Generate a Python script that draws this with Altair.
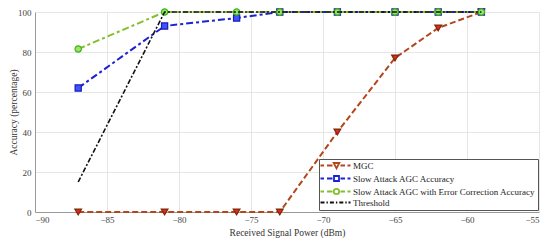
import altair as alt
import pandas as pd

# ---- data ----
power = [-87, -81, -76, -73, -69, -65, -62, -59]
mgc = [0, 0, 0, 0, 40, 77, 92, 100]
slow_agc = [62, 93, 97, 100, 100, 100, 100, 100]
slow_agc_ec = [81.5, 100, 100, 100, 100, 100, 100, 100]
threshold = [15, 100, 100, 100, 100, 100, 100, 100]

series_names = [
    "MGC",
    "Slow Attack AGC Accuracy",
    "Slow Attack AGC with Error Correction Accuracy",
    "Threshold",
]
x_ticks = [-90, -85, -80, -75, -70, -65, -60, -55]
y_ticks = [0, 20, 40, 60, 80, 100]

rows = []
for name, vals in zip(series_names, [mgc, slow_agc, slow_agc_ec, threshold]):
    for p, v in zip(power, vals):
        rows.append({"series": name, "power": p, "acc": v})
df = pd.DataFrame(rows)

FONT = "Liberation Serif, Times New Roman, serif"

x_enc = alt.X(
    "power:Q",
    scale=alt.Scale(domain=[-90, -55], nice=False),
    axis=alt.Axis(
        values=x_ticks,
        title="Received Signal Power (dBm)",
        ticks=False,
        labelPadding=3,
        titleY=15,
        titleBaseline="top",
    ),
)
y_enc = alt.Y(
    "acc:Q",
    scale=alt.Scale(domain=[0, 100], nice=False),
    axis=alt.Axis(
        values=y_ticks,
        title="Accuracy (percentage)",
        ticks=False,
        labelPadding=4,
        titleX=-22,
        titleY=100,
        titleAngle=270,
        titleAlign="center",
        titleBaseline="middle",
    ),
)

base = alt.Chart(df).encode(x=x_enc, y=y_enc)


def line(name, color, dash, width=2.0):
    return base.transform_filter(alt.datum.series == name).mark_line(
        color=color, strokeDash=dash, strokeWidth=width, clip=False
    )


def pts(name, shape, fill, stroke, size):
    return base.transform_filter(alt.datum.series == name).mark_point(
        shape=shape, filled=True, fill=fill, stroke=stroke, strokeWidth=1.2,
        size=size, opacity=1, clip=False
    )


brown = "#b4461c"
blue = "#1c22d2"
green = "#86be2c"
black = "#111111"

layers = [
    line("MGC", brown, [6, 3]),
    pts("MGC", "triangle-down", "#e6281c", "#7a2a0c", 45),
    line("Slow Attack AGC Accuracy", blue, [7, 3, 3, 3]),
    pts("Slow Attack AGC Accuracy", "square", "#3d55ff", "#1a1ab8", 38),
    line("Slow Attack AGC with Error Correction Accuracy", green, [7, 3, 3, 3]),
    pts("Slow Attack AGC with Error Correction Accuracy", "circle", "#9ee46a", "#3cb41c", 40),
    line("Threshold", black, [5, 2, 2, 2], 1.6),
]

# legend symbols: dashed line with marker; geometry given in px, scaled to symbol units
SYM_SIZE = 36
R = SYM_SIZE ** 0.5 / 2


def u(v):
    return round(v / R, 3)


def dashes(segs):
    return " ".join(f"M{u(a)},0 L{u(b)},0" for a, b in segs)


seg_marker = [(-5, -1.5), (1.5, 7), (15, 19.5), (22, 25)]
mx, mh = 11, 2.8
p_mgc = dashes(seg_marker) + f" M{u(mx-mh)},{u(-2.5)} L{u(mx+mh)},{u(-2.5)} L{u(mx)},{u(2.8)} Z"
p_blue = dashes(seg_marker) + f" M{u(mx-2.5)},{u(-2.5)} L{u(mx+2.5)},{u(-2.5)} L{u(mx+2.5)},{u(2.5)} L{u(mx-2.5)},{u(2.5)} Z"
p_green = dashes(seg_marker) + f" M{u(mx+2.7)},0 A{u(2.7)},{u(2.7)} 0 1,1 {u(mx-2.7)},0 A{u(2.7)},{u(2.7)} 0 1,1 {u(mx+2.7)},0"
p_thr = dashes([(-5, -1), (1, 2.4), (4.4, 8.4), (10.4, 11.8), (13.8, 17.8), (19.8, 21.2), (23, 25)])

legend_layer = (
    alt.Chart(df)
    .transform_filter("false")
    .mark_point(filled=False, opacity=1, strokeWidth=1.8)
    .encode(
        x=x_enc,
        y=y_enc,
        color=alt.Color(
            "series:N",
            scale=alt.Scale(domain=series_names, range=[brown, blue, green, black]),
            legend=alt.Legend(
                title=None,
                orient="none",
                legendX=284,
                legendY=147,
                strokeColor="#555555",
                fillColor="white",
                padding=2,
                symbolSize=SYM_SIZE,
                symbolStrokeWidth=1.8,
                labelOffset=23,
                rowPadding=0,
                labelLimit=0,
                labelFont=FONT,
                labelFontSize=9,
                labelColor="#222222",
            ),
        ),
        shape=alt.Shape(
            "series:N",
            scale=alt.Scale(domain=series_names, range=[p_mgc, p_blue, p_green, p_thr]),
        ),
    )
)

chart = (
    alt.layer(*layers, legend_layer)
    .properties(
        width=504,
        height=200,
        padding={"left": 27, "top": 4, "right": 3, "bottom": 32},
        autosize="none",
    )
    .configure_view(stroke=None)
    .configure_axis(
        labelFont=FONT,
        titleFont=FONT,
        labelFontSize=9,
        titleFontSize=9.5,
        titleFontWeight="normal",
        labelColor="#444444",
        titleColor="#333333",
        gridColor="#e6e6e6",
        domainColor="#999999",
    )
)

chart.save("out.html", embed_options={"renderer": "svg", "actions": False})
